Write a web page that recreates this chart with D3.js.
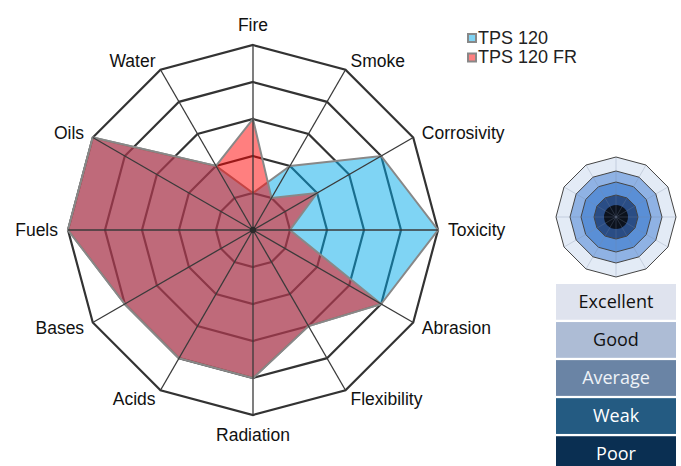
<!DOCTYPE html>
<html>
<head>
<meta charset="utf-8">
<script src="https://cdn.jsdelivr.net/npm/d3@7"></script>
<style>
  html, body { margin: 0; padding: 0; background: #fff; }
  svg { display: block; }
</style>
</head>
<body>
<svg id="chart" width="681" height="466"></svg>
<script>
// ---- data ----
const categories = ["Fire", "Smoke", "Corrosivity", "Toxicity", "Abrasion", "Flexibility",
                    "Radiation", "Acids", "Bases", "Fuels", "Oils", "Water"];
const tps120   = [1, 2, 4, 5, 4, 3, 4, 4, 4, 5, 5, 2];
const tps120fr = [3, 1, 2, 1, 4, 3, 4, 4, 4, 5, 5, 2];
const seriesNames = ["TPS 120", "TPS 120 FR"];
const levels = [1, 2, 3, 4, 5];
const ratingLabels = ["Excellent", "Good", "Average", "Weak", "Poor"];

// ---- layout / style ----
const cx = 253, cy = 230, R = 185;
const seriesFill = ["rgba(0,170,233,0.5)", "rgba(255,0,0,0.5)"];
const legendSwatch = ["#80d4f4", "#ff8080"];
const labelFont = "Liberation Sans, Arial, Helvetica, sans-serif";

const svg = d3.select("#chart");
const n = categories.length;
const angle = d3.scaleLinear().domain([0, n]).range([0, 2 * Math.PI]);
const r = d3.scaleLinear().domain([0, 5]).range([0, R]);

const pt = (i, v) => {
  const a = angle(i);
  return [cx + r(v) * Math.sin(a), cy - r(v) * Math.cos(a)];
};
const polyPath = vals => d3.line()(vals.map((v, i) => pt(i, v))) + "Z";

const g = svg.append("g");

// rings (under polygons)
g.selectAll("path.ring").data(levels).join("path")
  .attr("class", "ring")
  .attr("d", l => polyPath(categories.map(() => l)))
  .attr("fill", "none")
  .attr("stroke", "#333")
  .attr("stroke-width", 2.2)
  .attr("stroke-linejoin", "miter");

// series polygons
[tps120, tps120fr].forEach((vals, k) => {
  g.append("path")
    .attr("d", polyPath(vals))
    .attr("fill", seriesFill[k])
    .attr("stroke", "#888")
    .attr("stroke-width", 2)
    .attr("stroke-linejoin", "miter");
});

// spokes (above polygons)
g.selectAll("line.spoke").data(categories).join("line")
  .attr("class", "spoke")
  .attr("x1", cx).attr("y1", cy)
  .attr("x2", (d, i) => pt(i, 5)[0])
  .attr("y2", (d, i) => pt(i, 5)[1])
  .attr("stroke", "#3a3a3a")
  .attr("stroke-width", 1.3);

g.append("circle").attr("cx", cx).attr("cy", cy).attr("r", 3.2).attr("fill", "#2a2a2a");

// axis labels
g.selectAll("text.lab").data(categories).join("text")
  .attr("class", "lab")
  .each(function (d, i) {
    const a = angle(i);
    const s = Math.sin(a), c = Math.cos(a);
    let x = cx + (R + 10) * s, y = cy - (R + 10) * c;
    let anchor = "middle";
    if (s > 0.01) anchor = "start"; else if (s < -0.01) anchor = "end";
    if (Math.abs(s) < 0.01) y += c > 0 ? -10 : 10;
    d3.select(this).attr("x", x).attr("y", y).attr("dy", "0.35em")
      .attr("text-anchor", anchor);
  })
  .attr("font-family", labelFont)
  .attr("font-size", 17.5)
  .attr("fill", "#111")
  .text(d => d);

// legend
const lg = svg.append("g");
seriesNames.forEach((name, k) => {
  const y0 = 34 + k * 19.5;
  lg.append("rect").attr("x", 468).attr("y", y0).attr("width", 8).attr("height", 8)
    .attr("fill", legendSwatch[k]).attr("stroke", "#888").attr("stroke-width", 2);
  lg.append("text").attr("x", 478).attr("y", y0 + 9.5)
    .attr("font-family", labelFont).attr("font-size", 18).attr("fill", "#222")
    .text(name);
});

// icon radar
const icx = 616, icy = 217;
const iconRadii = [60, 46, 35, 22];
const iconFills = ["#e3ebf6", "#8fb2e4", "#5a8fd6", "#2a4d85"];
const ipt = (i, rad) => {
  const a = angle(i);
  return [icx + rad * Math.sin(a), icy - rad * Math.cos(a)];
};
const ig = svg.append("g");
iconRadii.forEach((rad, k) => {
  ig.append("path")
    .attr("d", d3.line()(categories.map((c, i) => ipt(i, rad))) + "Z")
    .attr("fill", iconFills[k]).attr("stroke", "#444").attr("stroke-width", 1);
});
ig.append("circle").attr("cx", icx).attr("cy", icy).attr("r", 12).attr("fill", "#0c121d");
ig.selectAll("line").data(categories).join("line")
  .attr("x1", icx).attr("y1", icy)
  .attr("x2", (d, i) => ipt(i, 60)[0]).attr("y2", (d, i) => ipt(i, 60)[1])
  .attr("stroke", "rgba(120,135,160,0.35)").attr("stroke-width", 0.8);

// rating boxes
const boxFills = ["#dfe3ee", "#adbcd5", "#6a84a5", "#245b82", "#0a2f52"];
const boxText = ["#111", "#111", "#eef2f7", "#ffffff", "#ffffff"];
const by = d3.scaleBand().domain(ratingLabels).range([284, 472]).paddingInner(0.06);
const bg = svg.append("g");
bg.selectAll("rect").data(ratingLabels).join("rect")
  .attr("x", 556).attr("width", 120)
  .attr("y", d => by(d)).attr("height", by.bandwidth())
  .attr("fill", (d, i) => boxFills[i]);
bg.selectAll("text").data(ratingLabels).join("text")
  .attr("x", 616).attr("y", d => by(d) + by.bandwidth() / 2)
  .attr("dy", "0.35em").attr("text-anchor", "middle")
  .attr("font-family", "'Open Sans', 'Noto Sans', sans-serif").attr("font-size", 18)
  .attr("fill", (d, i) => boxText[i])
  .text(d => d);
</script>
</body>
</html>
